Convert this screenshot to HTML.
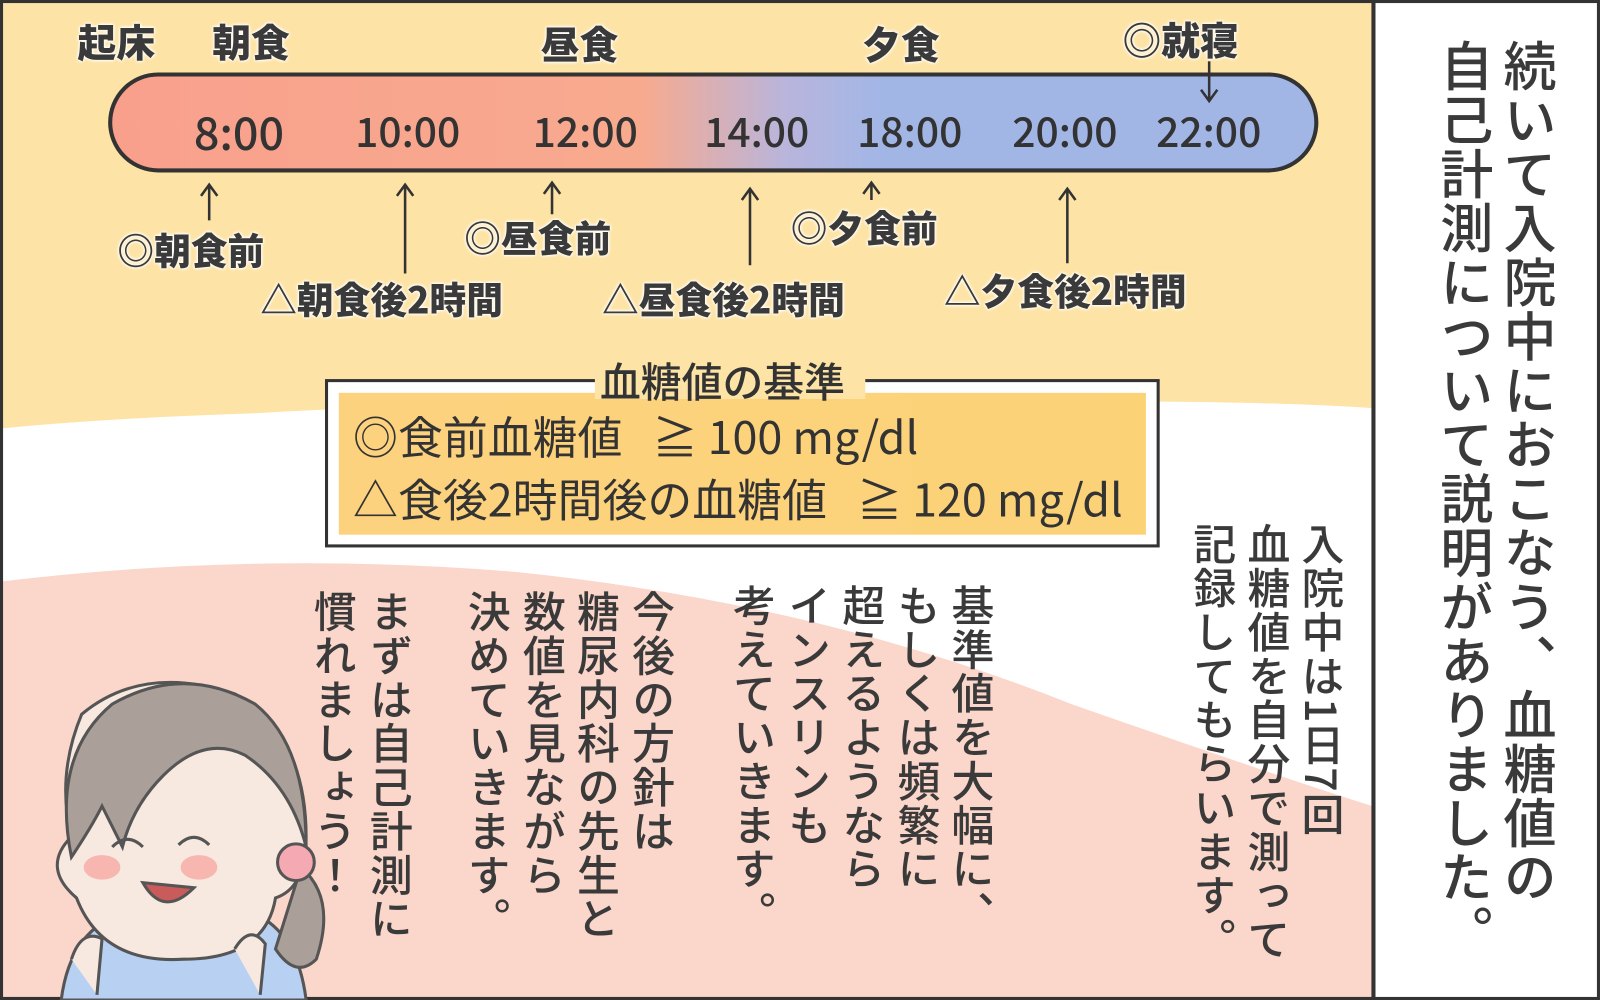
<!DOCTYPE html>
<html><head><meta charset="utf-8"><style>
html,body{margin:0;padding:0;background:#fff;}
#s{position:relative;width:1568px;height:980px;transform:scale(1.0204);transform-origin:0 0;overflow:hidden;font-family:"Liberation Sans","Noto Sans CJK JP",sans-serif;color:#333;}
.a{position:absolute;}
.v{position:absolute;writing-mode:vertical-rl;font-family:"Noto Sans CJK JP",sans-serif;font-weight:500;color:#3a3a3a;white-space:nowrap;letter-spacing:1px;}
.t{position:absolute;font-family:"Noto Sans CJK JP",sans-serif;font-weight:900;color:#3a3a3a;white-space:nowrap;text-shadow:0 0 3px #fff,0 0 3px #fff,0 0 3px #fff;}
.tm{position:absolute;top:98px;font-family:"Noto Sans CJK JP",sans-serif;font-size:40px;color:#333;font-weight:500;}
</style></head><body><div id="s">
<svg class="a" style="left:0;top:0" width="1568" height="980">
<path d="M0 0H1345V400Q1200 390 900 395Q500 390 250 405Q100 410 0 420Z" fill="#fde4a6"/>
<path d="M0 570Q250 540 500 560Q800 590 1050 690Q1250 760 1345 790V980H0Z" fill="#fbd6ca"/>
<defs><linearGradient id="g" x1="0" x2="1"><stop offset="0" stop-color="#f9a08d"/><stop offset="0.44" stop-color="#f8aa8e"/><stop offset="0.56" stop-color="#b9b5dc"/><stop offset="0.64" stop-color="#a2b6e6"/><stop offset="1" stop-color="#a2b6e6"/></linearGradient>
<linearGradient id="y" x1="0" x2="1"><stop offset="0" stop-color="#fdd27f"/><stop offset="1" stop-color="#fcd277"/></linearGradient></defs>
<rect x="108" y="73" width="1182" height="94" rx="47" fill="url(#g)" stroke="#333" stroke-width="4"/>
<g stroke="#333" stroke-width="2.5" fill="none">
<path d="M205 216V182M397 268V182M541 210V180M735 260V186M854 196V180M1046 258V186"/>
<path d="M197 192L205 181L213 192M389 192L397 181L405 192M533 190L541 179L549 190M727 196L735 185L743 196M846 190L854 179L862 190M1038 196L1046 185L1054 196"/>
<path d="M1185 60V98M1177 88L1185 99L1193 88"/>
</g>
<rect x="320" y="373" width="815" height="162" fill="#fff" stroke="#333" stroke-width="3"/>
<rect x="332" y="385" width="791" height="139" fill="url(#y)"/>
<rect x="583" y="355" width="265" height="36" fill="#fde4a6"/>
<line x1="1346" y1="0" x2="1346" y2="980" stroke="#333" stroke-width="4"/>
<rect x="1.5" y="1.5" width="1565" height="977" fill="none" stroke="#333" stroke-width="3"/>
<g stroke="#555" stroke-width="3">
<path d="M60 980Q70 900 140 890L230 890Q290 900 300 980Z" fill="#b8d0f2"/>
<path d="M80 700Q140 650 230 680Q300 720 300 820Q300 870 270 880Q260 940 180 940Q100 945 75 880Q40 850 70 820Q55 760 80 700Z" fill="#f7e9e0"/>
<path d="M70 840Q50 740 110 690Q180 650 250 690Q300 730 300 830Q285 770 240 740Q200 720 160 760Q130 790 120 830L100 790Q90 810 70 840Z" fill="#aa9f99"/>
<path d="M295 850Q330 880 310 940Q290 960 270 930Z" fill="#aa9f99"/>
<circle cx="290" cy="845" r="18" fill="#f4a9b3"/>
<path d="M140 865Q160 900 190 870Z" fill="#c95b5b"/>
<path d="M110 830Q125 815 140 830M175 828Q190 813 205 828" fill="none"/>
<path d="M70 940Q80 910 100 920L95 975M230 930Q245 905 260 925L255 975" fill="#f7e9e0"/>
</g>
<ellipse cx="100" cy="850" rx="18" ry="12" fill="#f8b6b0"/>
<ellipse cx="195" cy="850" rx="18" ry="12" fill="#f8b6b0"/>
</svg>
<div class="t" style="left:76px;top:12px;font-size:38px">起床</div>
<div class="t" style="left:208px;top:12px;font-size:38px">朝食</div>
<div class="t" style="left:530px;top:14px;font-size:38px">昼食</div>
<div class="t" style="left:845px;top:14px;font-size:38px">夕食</div>
<div class="t" style="left:1100px;top:10px;font-size:38px">◎就寝</div>
<div class="tm" style="left:190px;font-size:44px;top:96px">8:00</div>
<div class="tm" style="left:348px">10:00</div>
<div class="tm" style="left:522px">12:00</div>
<div class="tm" style="left:690px">14:00</div>
<div class="tm" style="left:840px">18:00</div>
<div class="tm" style="left:992px">20:00</div>
<div class="tm" style="left:1133px">22:00</div>
<div class="t" style="left:115px;top:218px;font-size:36px">◎朝食前</div>
<div class="t" style="left:255px;top:266px;font-size:36px">△朝食後2時間</div>
<div class="t" style="left:455px;top:206px;font-size:36px">◎昼食前</div>
<div class="t" style="left:590px;top:266px;font-size:36px">△昼食後2時間</div>
<div class="t" style="left:775px;top:196px;font-size:36px">◎夕食前</div>
<div class="t" style="left:925px;top:258px;font-size:36px">△夕食後2時間</div>
<div class="a" style="left:588px;top:343px;font-size:40px;font-family:'Noto Sans CJK JP',sans-serif;font-weight:500;color:#333">血糖値の基準</div>
<div class="a" style="left:346px;top:394px;font-size:44px;font-family:'Noto Sans CJK JP',sans-serif;color:#333;white-space:nowrap">◎食前血糖値&nbsp;&nbsp;&nbsp;≧ 100 mg/dl</div>
<div class="a" style="left:346px;top:455px;font-size:44px;font-family:'Noto Sans CJK JP',sans-serif;color:#333;white-space:nowrap">△食後2時間後の血糖値&nbsp;&nbsp;&nbsp;≧ 120 mg/dl</div>
<div class="v" style="left:1462px;top:38px;font-size:52px">続いて入院中におこなう、血糖値の</div>
<div class="v" style="left:1400px;top:38px;font-size:52px">自己計測について説明がありました。</div>
<div class="v" style="left:1266px;top:512px;font-size:42px">入院中は1日7回</div>
<div class="v" style="left:1213px;top:512px;font-size:42px">血糖値を自分で測って</div>
<div class="v" style="left:1160px;top:512px;font-size:42px">記録してもらいます。</div>
<div class="v" style="left:923px;top:572px;font-size:42px">基準値を大幅に、</div>
<div class="v" style="left:870px;top:572px;font-size:42px">もしくは頻繁に</div>
<div class="v" style="left:816px;top:572px;font-size:42px">超えるようなら</div>
<div class="v" style="left:763px;top:572px;font-size:42px">インスリンも</div>
<div class="v" style="left:709px;top:572px;font-size:42px">考えていきます。</div>
<div class="v" style="left:610px;top:578px;font-size:42px">今後の方針は</div>
<div class="v" style="left:556px;top:578px;font-size:42px">糖尿内科の先生と</div>
<div class="v" style="left:503px;top:578px;font-size:42px">数値を見ながら</div>
<div class="v" style="left:449px;top:578px;font-size:42px">決めていきます。</div>
<div class="v" style="left:353px;top:578px;font-size:42px">まずは自己計測に</div>
<div class="v" style="left:298px;top:578px;font-size:42px">慣れましょう！</div>
</div></body></html>
